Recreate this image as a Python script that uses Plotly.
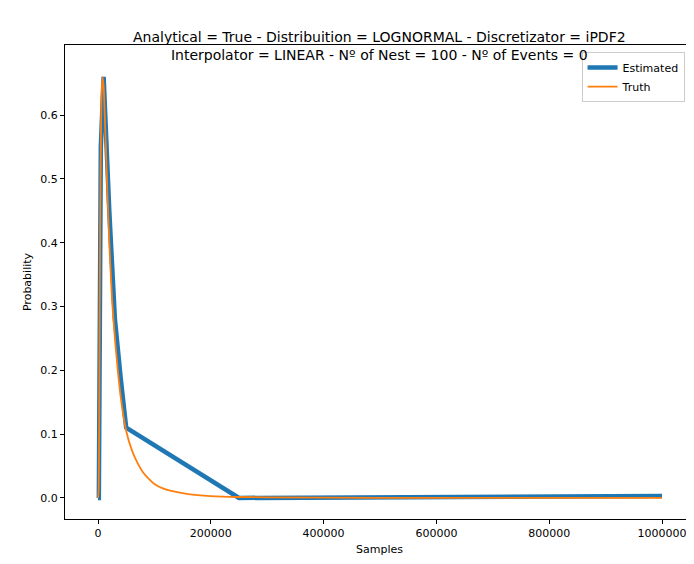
import plotly.graph_objects as go

est_x = [0, 1500, 5000, 10000, 20000, 30000, 40000, 50000, 250000, 1000000]
est_y = [0, 0, 0.55, 0.66, 0.45, 0.28, 0.19, 0.11, 0.0, 0.003]

truth_x = [0, 1000, 2000, 3000, 4000, 6000, 8000, 10000, 12000, 15000, 20000, 25000, 30000,
           40000, 50000, 60000, 70000, 80000, 90000, 100000, 115000, 130000, 160000, 200000,
           250000, 300000, 500000, 1000000]
truth_y = [0, 0.01, 0.1, 0.3, 0.45, 0.62, 0.66, 0.645, 0.6, 0.52, 0.4, 0.31, 0.25,
           0.16, 0.105, 0.075, 0.055, 0.04, 0.03, 0.022, 0.015, 0.011, 0.006, 0.003,
           0.0015, 0.001, 0.0002, 0.0]

fig = go.Figure()
fig.add_trace(go.Scatter(x=est_x, y=est_y, mode='lines', name='Estimated',
                         line=dict(color='#1f77b4', width=4.5)))
fig.add_trace(go.Scatter(x=truth_x, y=truth_y, mode='lines', name='Truth',
                         line=dict(color='#ff7f0e', width=1.8, shape='spline', smoothing=0.6)))

axis_style = dict(showgrid=False, zeroline=False, showline=True, mirror=True, linecolor='black',
                  ticks='outside', ticklen=4, tickcolor='black', tickfont=dict(size=11, color='black'),
                  automargin=False)
fig.update_layout(
    width=694, height=564,
    margin=dict(l=57, r=8, t=37, b=53),
    plot_bgcolor='white', paper_bgcolor='white',
    font=dict(family='DejaVu Sans', color='black'),
    title=dict(text='Analytical = True - Distribuition = LOGNORMAL - Discretizator = iPDF2<br>'
                    'Interpolator = LINEAR - Nº of Nest = 100 - Nº of Events = 0',
               x=0.535, xanchor='center', y=0.94, yanchor='bottom', yref='container',
               font=dict(size=14)),
    xaxis=dict(title=dict(text='Samples', font=dict(size=11), standoff=6), range=[-58500, 1056700],
               tickvals=[0, 200000, 400000, 600000, 800000, 1000000], tickformat='d', **axis_style),
    yaxis=dict(title=dict(text='Probability', font=dict(size=11), standoff=6), range=[-0.033, 0.71],
               tickvals=[0, 0.1, 0.2, 0.3, 0.4, 0.5, 0.6], tickformat='.1f', **axis_style),
    legend=dict(x=0.985, y=0.985, xanchor='right', yanchor='top', bordercolor='#cccccc', borderwidth=1,
                bgcolor='white', font=dict(size=11)),
)
fig.write_html("out.html")
